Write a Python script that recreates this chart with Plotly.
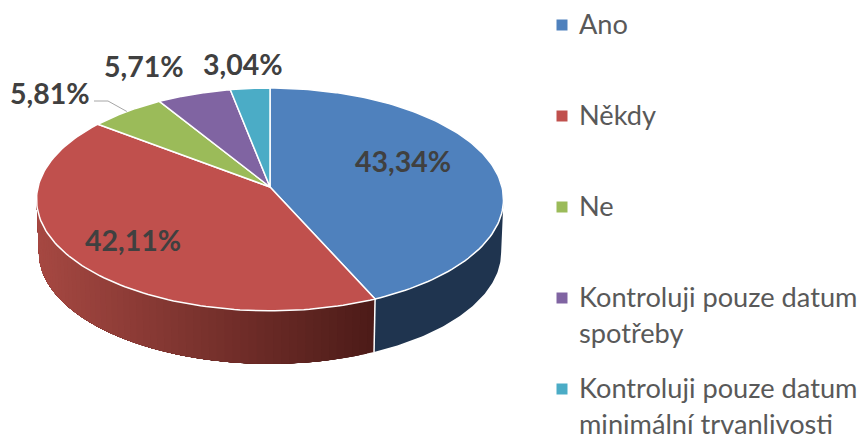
import math
import numpy as np
import plotly.graph_objects as go

categories = ["Ano", "Někdy", "Ne", "Kontroluji pouze datum spotřeby", "Kontroluji pouze datum minimální trvanlivosti"]
values = [43.34, 42.11, 5.81, 5.71, 3.04]
value_labels = ["43,34%", "42,11%", "5,81%", "5,71%", "3,04%"]
legend_lines = [["Ano"], ["Někdy"], ["Ne"], ["Kontroluji pouze datum", "spotřeby"], ["Kontroluji pouze datum", "minimální trvanlivosti"]]
colors = ["#4f81bd", "#c0504d", "#9bbb59", "#8064a2", "#4bacc6"]
wall_blue = "#1f344f"
wall_red_left = (166, 72, 66)
wall_red_right = (76, 27, 24)
label_pos = [(403, 161), (133, 240), (50, 93), (144, 66), (243, 64)]
legend_y = [25, 116, 207, 298, 389]

W, H = 863, 434
FONT = "Lato"
CX, CY, A, B, K = 270, 187, 232, 110, 0.112
DEPTH, SHRINK = 53, 0.99
EXTREME = math.acos(-K)


def top(t):
    t = np.asarray(t, dtype=float)
    w = 1 + K * np.cos(t)
    return CX + A * np.sin(t) / w, CY - B * np.cos(t) / w


def bottom(t):
    t = np.asarray(t, dtype=float)
    w = 1 + K * np.cos(t)
    return CX + SHRINK * A * np.sin(t) / w, CY + DEPTH - B * np.cos(t) / w


total = sum(values)
edges = np.concatenate([[0], np.cumsum(values)]) / total * 2 * math.pi
fig = go.Figure()


def wall(t0, t1, color):
    ts = np.linspace(t0, t1, 80)
    xt, yt = top(ts)
    xb, yb = bottom(ts[::-1])
    fig.add_trace(go.Scatter(
        x=np.concatenate([xt, xb]), y=np.concatenate([yt, yb]), mode="lines",
        fill="toself", fillcolor=color, line=dict(width=0),
        hoverinfo="skip", showlegend=False))


# side wall: Ano (flat dark) and Někdy (horizontal gradient, painted overlapping so no seams show)
wall(EXTREME, edges[1], wall_blue)
n = 60
t_end = 2 * math.pi - EXTREME
red_ts = np.linspace(edges[1], t_end, n + 1)
x_left = float(top(t_end)[0])
x_right = float(top(edges[1])[0])
for i in range(n):
    mx = float(top((red_ts[i] + red_ts[i + 1]) / 2)[0])
    f = (mx - x_left) / (x_right - x_left)
    c = [round(a + (b - a) * f) for a, b in zip(wall_red_left, wall_red_right)]
    wall(red_ts[i], t_end, f"rgb({c[0]},{c[1]},{c[2]})")

# white seam between the two walls
sx0, sy0 = top(edges[1])
sx1, sy1 = bottom(edges[1])
fig.add_trace(go.Scatter(x=[sx0, sx1], y=[sy0, sy1], mode="lines",
                         line=dict(color="white", width=1.5), hoverinfo="skip", showlegend=False))

# top face
for i, name in enumerate(categories):
    ts = np.linspace(edges[i], edges[i + 1], 120)
    x, y = top(ts)
    fig.add_trace(go.Scatter(
        x=np.concatenate([[CX], x, [CX]]), y=np.concatenate([[CY], y, [CY]]),
        mode="lines", fill="toself", fillcolor=colors[i],
        line=dict(color="white", width=1.5), name=name, showlegend=False,
        hovertemplate=f"{name}: {value_labels[i]}<extra></extra>"))

# leader line for the Ne label
mid = (edges[2] + edges[3]) / 2
lx, ly = top(mid)
fig.add_trace(go.Scatter(x=[94, 108, float(lx)], y=[101, 101, float(ly)], mode="lines",
                         line=dict(color="#a6a6a6", width=1), hoverinfo="skip", showlegend=False))

# legend swatches
fig.add_trace(go.Scatter(x=[562] * 5, y=legend_y, mode="markers",
                         marker=dict(symbol="square", size=11, color=colors, line=dict(width=0)),
                         hoverinfo="skip", showlegend=False))

ann = []
for (x, y), t in zip(label_pos, value_labels):
    ann.append(dict(x=x, y=y, text=f"<b>{t}</b>", showarrow=False, xanchor="center", yanchor="middle",
                    font=dict(family=FONT, size=28.5, color="#404040")))
for y0, lines in zip(legend_y, legend_lines):
    for j, t in enumerate(lines):
        ann.append(dict(x=577, y=y0 - 2 + j * 36, text=t, showarrow=False, xanchor="left", yanchor="middle",
                        font=dict(family=FONT, size=27.2, color="#595959")))

fig.update_layout(
    width=W, height=H, margin=dict(l=0, r=0, t=0, b=0), autosize=False,
    paper_bgcolor="white", plot_bgcolor="white", showlegend=False, annotations=ann,
    xaxis=dict(range=[0, W], visible=False, fixedrange=True),
    yaxis=dict(range=[H, 0], visible=False, fixedrange=True),
)
fig.write_html("out.html", config={"displayModeBar": False},
               post_script="document.body.style.margin='0';document.body.style.overflow='hidden';")
